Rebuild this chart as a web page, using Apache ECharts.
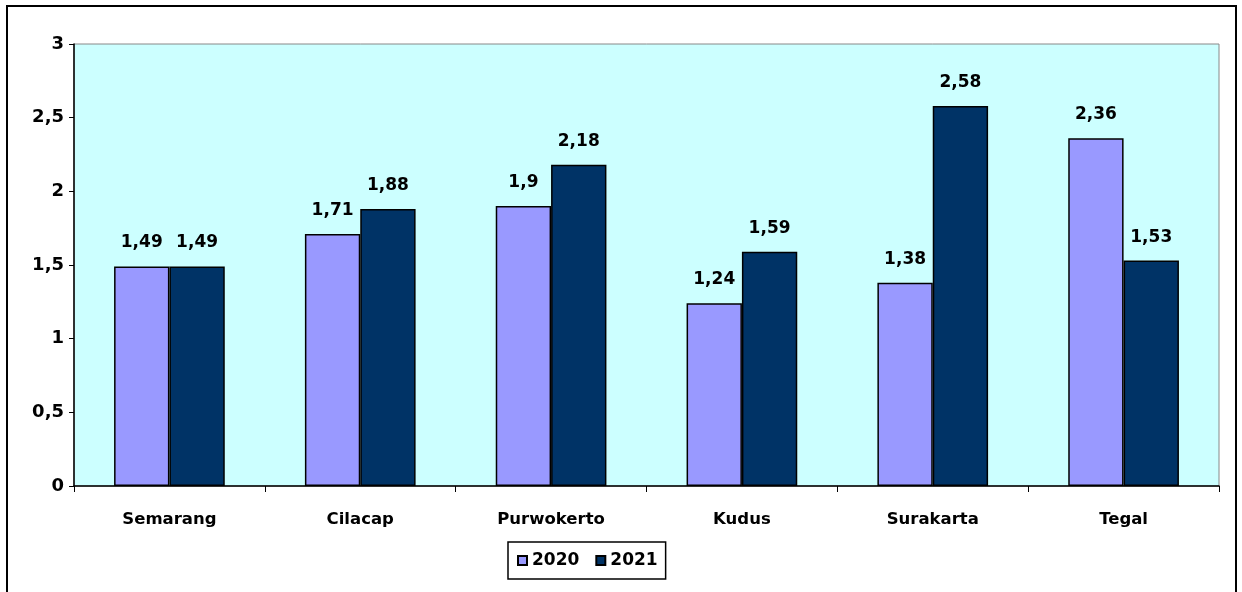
<!DOCTYPE html>
<html>
<head>
<meta charset="utf-8">
<script src="https://cdn.jsdelivr.net/npm/echarts@6/dist/echarts.min.js"></script>
<style>
  html, body { margin: 0; padding: 0; background: #fff; }
  #box { width: 1242px; height: 592px; }
</style>
</head>
<body>
<div id="box"></div>
<script>
// data
var cities = ["Semarang", "Cilacap", "Purwokerto", "Kudus", "Surakarta", "Tegal"];
var data2020 = [1.49, 1.71, 1.9, 1.24, 1.38, 2.36];
var data2021 = [1.49, 1.88, 2.18, 1.59, 2.58, 1.53];

var FONT = "DejaVu Sans";

// angka pakai koma desimal
function koma(v) {
  return String(v).replace(".", ",");
}

var myCharts = echarts.init(document.getElementById("box"));

var labelStyle = {
  show: true,
  position: "top",
  distance: 15,
  color: "#000",
  fontFamily: FONT,
  fontWeight: "bold",
  fontSize: 17,
  formatter: function (p) { return koma(p.value); }
};

var option = {
  animation: false,
  backgroundColor: "#fff",
  graphic: [
    {
      type: "rect",
      shape: { x: 7, y: 6, width: 1229, height: 620 },
      style: { fill: "none", stroke: "#000", lineWidth: 2 },
      z: 100
    }
  ],
  legend: {
    left: 508,
    top: 542,
    padding: [10, 8, 10, 9],
    itemWidth: 9,
    itemHeight: 9,
    itemGap: 16,
    icon: "rect",
    borderColor: "#000",
    borderWidth: 1.5,
    textStyle: { fontFamily: FONT, fontWeight: "bold", fontSize: 17, color: "#000" },
    data: ["2020", "2021"]
  },
  grid: {
    left: 74,
    right: 23,
    top: 44,
    bottom: 106,
    show: true,
    backgroundColor: "#CCFFFF",
    borderColor: "#888",
    borderWidth: 1
  },
  xAxis: {
    type: "category",
    data: cities,
    axisLine: { lineStyle: { color: "#000", width: 1.5 } },
    axisTick: { show: true, length: 6, lineStyle: { color: "#000" } },
    axisLabel: {
      margin: 25,
      color: "#000",
      fontFamily: FONT,
      fontWeight: "bold",
      fontSize: 16.5
    }
  },
  yAxis: {
    type: "value",
    min: 0,
    max: 3,
    interval: 0.5,
    splitLine: { show: false },
    axisLine: { show: true, lineStyle: { color: "#000", width: 1.5 } },
    axisTick: { show: true, length: 5, lineStyle: { color: "#000" } },
    axisLabel: {
      margin: 10,
      color: "#000",
      fontFamily: FONT,
      fontWeight: "bold",
      fontSize: 18,
      formatter: function (v) { return koma(v); }
    }
  },
  series: [
    {
      name: "2020",
      type: "bar",
      data: data2020,
      barGap: "0%",
      barCategoryGap: "42%",
      itemStyle: { color: "#9999FF", borderColor: "#000", borderWidth: 1.5 },
      label: labelStyle
    },
    {
      name: "2021",
      type: "bar",
      data: data2021,
      itemStyle: { color: "#003366", borderColor: "#000", borderWidth: 1.5 },
      label: labelStyle
    }
  ]
};

myCharts.setOption(option);
</script>
</body>
</html>
